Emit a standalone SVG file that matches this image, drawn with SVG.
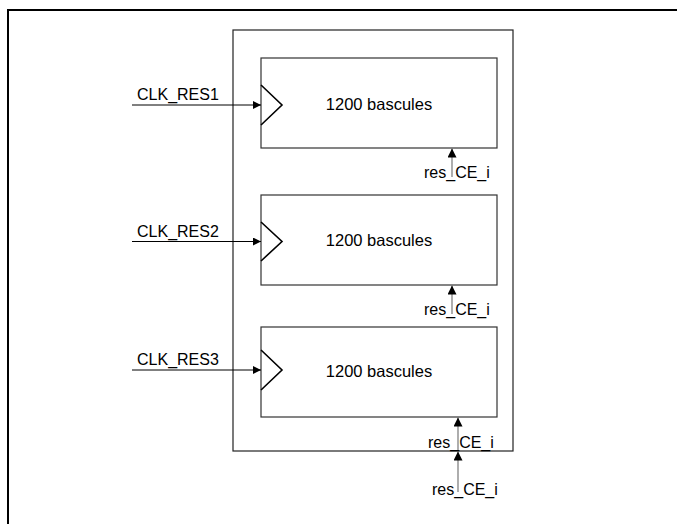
<svg xmlns="http://www.w3.org/2000/svg" width="677" height="524" viewBox="0 0 677 524">
<defs>
<style>
text{font-family:"Liberation Sans",Arial,sans-serif;font-size:16px;fill:#000}
.big{font-size:16.5px}
.blk{fill:#fff;stroke:#333;stroke-width:1.2}
.clk{fill:none;stroke:#000;stroke-width:1.6}
.sig{stroke:#000;stroke-width:1;fill:none}
.ce{stroke:#777;stroke-width:1.2;fill:none}
</style>
<marker id="ah" viewBox="0 0 10 10" refX="10" refY="5" markerWidth="12" markerHeight="8" markerUnits="userSpaceOnUse" orient="auto"><path d="M0,0 L10,5 L0,10 z" fill="#000"/></marker>
<marker id="av" viewBox="0 0 10 10" refX="10" refY="5" markerWidth="15" markerHeight="9" markerUnits="userSpaceOnUse" orient="auto"><path d="M0,0 L10,5 L0,10 z" fill="#000"/></marker>
</defs>
<rect width="677" height="524" fill="#fff"/>
<path d="M8,524 V10 H677" fill="none" stroke="#000" stroke-width="2"/>
<g id="container"><rect x="233" y="30" width="280" height="421" fill="none" stroke="#222" stroke-width="1.2"/></g>
<g id="block1"><rect class="blk" x="261" y="58" width="236" height="90"/><path class="clk" d="M261,85 L282,105 L261,125"/><text class="big" x="379" y="110" text-anchor="middle">1200 bascules</text></g>
<g id="block2"><rect class="blk" x="261" y="195" width="236" height="90"/><path class="clk" d="M261,222 L282,241.5 L261,261"/><text class="big" x="379" y="246" text-anchor="middle">1200 bascules</text></g>
<g id="block3"><rect class="blk" x="261" y="327" width="236" height="90"/><path class="clk" d="M261,350 L282,370 L261,390"/><text class="big" x="379" y="377" text-anchor="middle">1200 bascules</text></g>
<g id="connectors">
<line class="sig" x1="132" y1="105" x2="261" y2="105" marker-end="url(#ah)"/>
<line class="sig" x1="132" y1="241.5" x2="261" y2="241.5" marker-end="url(#ah)"/>
<line class="sig" x1="132" y1="370" x2="261" y2="370" marker-end="url(#ah)"/>
<line class="ce" x1="452" y1="177" x2="452" y2="148.5" marker-end="url(#av)"/>
<line class="ce" x1="452" y1="314" x2="452" y2="285.5" marker-end="url(#av)"/>
<line class="ce" x1="458" y1="450" x2="458" y2="417.5" marker-end="url(#av)"/>
<line class="ce" x1="458" y1="492" x2="458" y2="451.5" marker-end="url(#av)"/>
</g>
<g id="labels">
<text x="137" y="100">CLK_RES1</text>
<text x="137" y="237">CLK_RES2</text>
<text x="137" y="365">CLK_RES3</text>
<text x="424" y="178">res_CE_i</text>
<text x="424" y="315">res_CE_i</text>
<text x="428" y="448">res_CE_i</text>
<text x="432" y="495">res_CE_i</text>
</g>
</svg>
